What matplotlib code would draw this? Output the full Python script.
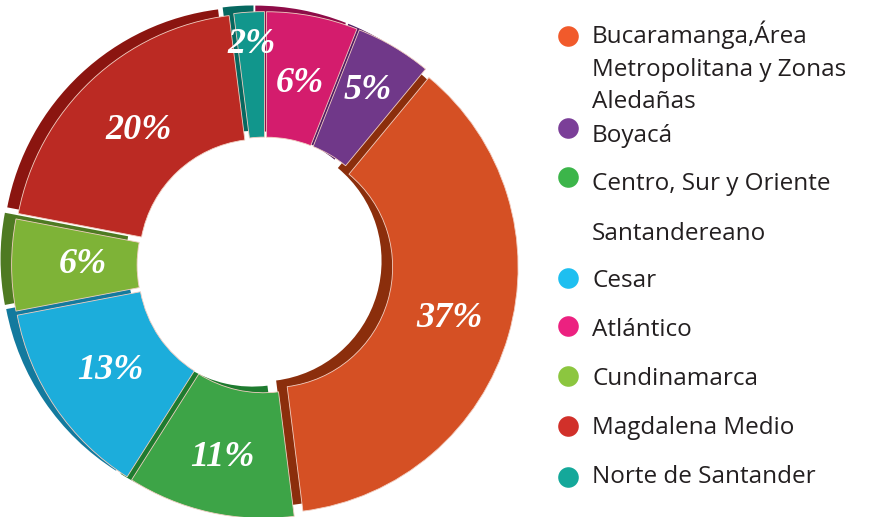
import matplotlib.pyplot as plt
import numpy as np

# pie order (clockwise from 12 o'clock)
regions = ["Atlántico", "Boyacá", "Bucaramanga", "Centro", "Cesar",
           "Cundinamarca", "Magdalena", "Norte"]
shares = [6, 5, 37, 11, 13, 6, 20, 2]
face_colors = ["#D41C6D", "#703889", "#D55024", "#3DA447", "#1CADDB",
               "#7EB337", "#BB2A23", "#11968C"]
side_colors = ["#8E0C48", "#4E1B63", "#8B2E0C", "#1E7B2F", "#137A9E",
               "#4E7A22", "#8B1510", "#066860"]
label_dist = [0.73, 0.80, 0.76, 0.78, 0.74, 0.72, 0.73, 0.87]

# legend entries (one marker each) and their text lines
legend_colors = ["#F15A2B", "#7B3F98", "#3CB54A", "#1EBFF0", "#EC2180",
                 "#8CC63F", "#D1302A", "#14A89A"]
legend_lines = [["Bucaramanga,Área", "Metropolitana y Zonas", "Aledañas"],
                ["Boyacá"],
                ["Centro, Sur y Oriente", "Santandereano"],
                ["Cesar"], ["Atlántico"], ["Cundinamarca"],
                ["Magdalena Medio"], ["Norte de Santander"]]
marker_y = [36, 128, 177, 278, 326, 376, 426, 477]
baseline_y = [[43, 76, 108], [142], [190, 240], [287], [336], [385],
              [434], [483]]

W, H = 876, 517
fig = plt.figure(figsize=(W / 100, H / 100), dpi=100)

# pie axes, centre at pixel (263, 265)
side = 516.6
cx, cy = 265, H - 265
ax = fig.add_axes([(cx - side / 2) / W, (cy - side / 2) / H, side / W, side / H])

explode = [0.03] * len(shares)
hole = 0.51

# dark copy shifted left/up gives the extruded side faces
ax.pie(shares, colors=side_colors, startangle=90, counterclock=False,
       explode=explode, center=(-0.045, 0.025),
       wedgeprops=dict(width=hole, linewidth=0))
wedges, _, pcts = ax.pie(
    shares, colors=face_colors, startangle=90, counterclock=False,
    explode=explode, autopct=lambda p: f"{p:.0f}%", pctdistance=1.0,
    wedgeprops=dict(width=hole, linewidth=0.6, edgecolor="#f2cfc2"),
    textprops=dict(color="white", family="Liberation Serif",
                   weight="bold", style="italic", fontsize=26))
for t, d in zip(pcts, label_dist):
    x, y = t.get_position()
    t.set_position((x * d, y * d))

ax.set_xlim(-1.05, 1.05)
ax.set_ylim(-1.05, 1.05)
ax.set_aspect("equal")
ax.axis("off")

# legend drawn in pixel coordinates
lg = fig.add_axes([0, 0, 1, 1])
lg.set_xlim(0, W)
lg.set_ylim(H, 0)
lg.axis("off")
lg.patch.set_alpha(0)

for col, my, lines, ys in zip(legend_colors, marker_y, legend_lines, baseline_y):
    lg.scatter([568], [my], s=220, color=col, linewidths=0)
    for line, by in zip(lines, ys):
        lg.text(592, by, line, fontsize=17.5, family="Open Sans",
                color="#231F20", va="baseline")

fig.savefig("out.png", dpi=100)
